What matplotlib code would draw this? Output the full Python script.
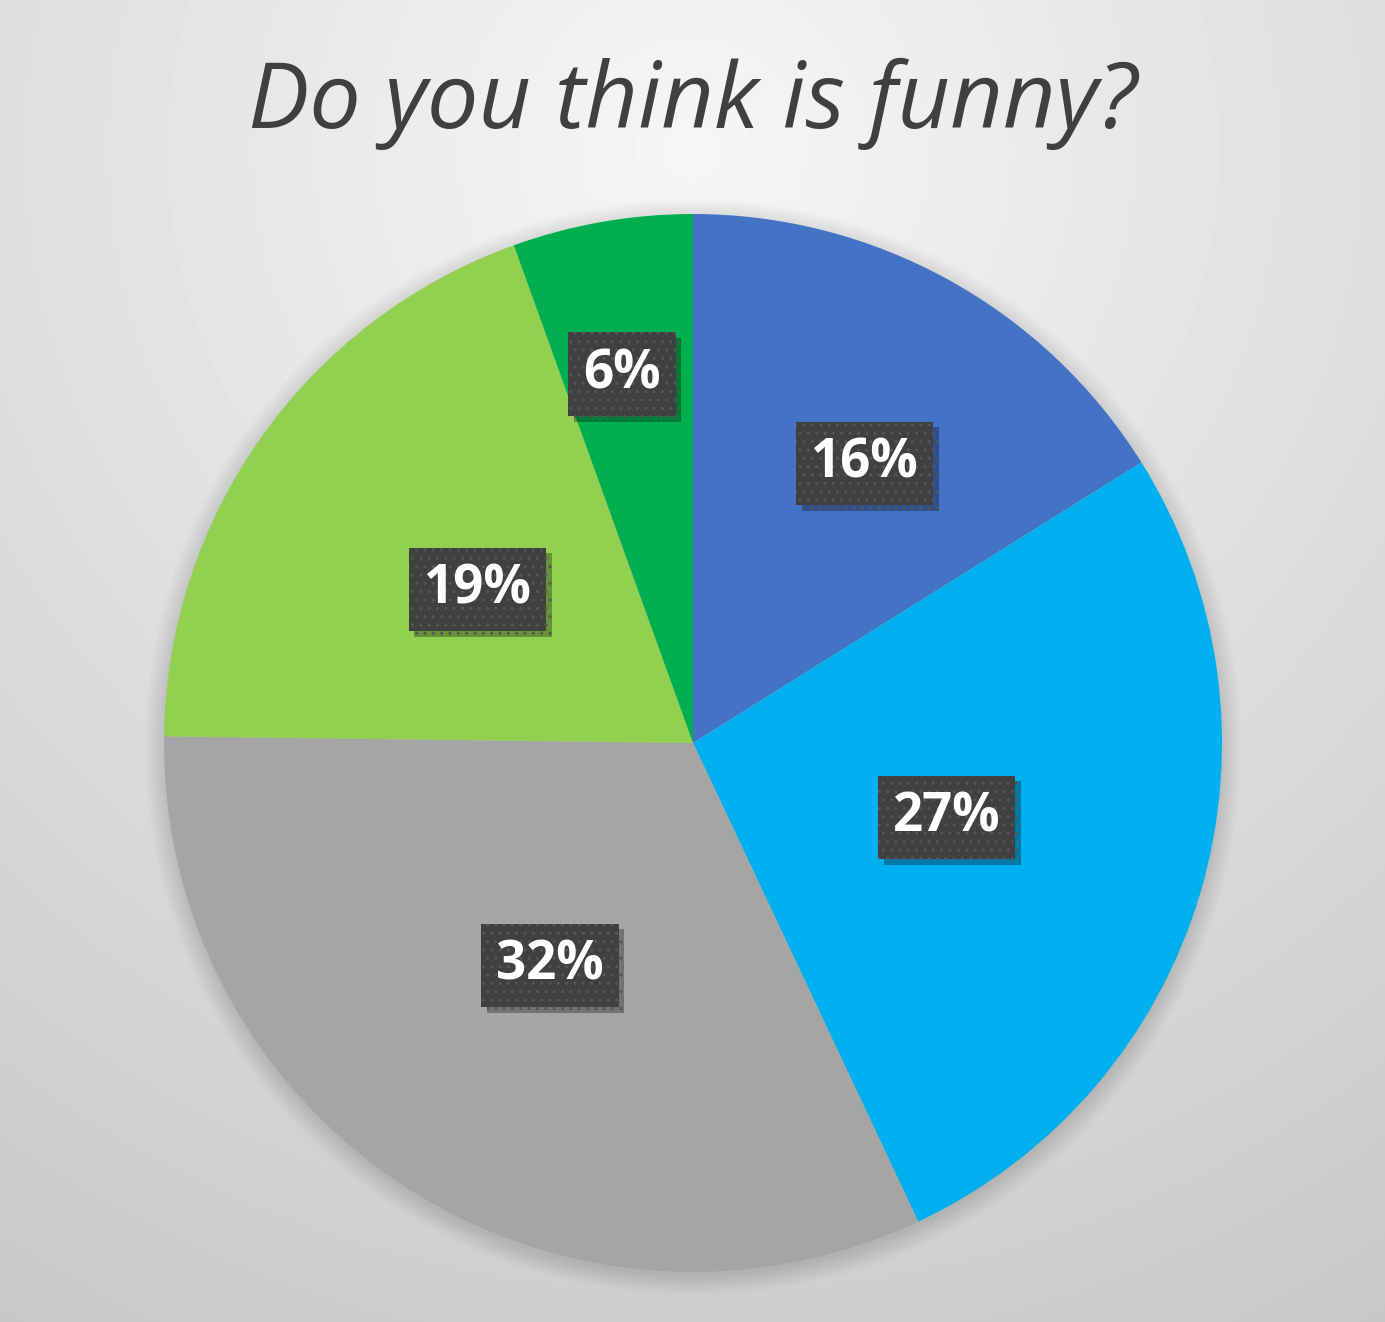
import matplotlib
matplotlib.use('Agg')
import matplotlib.pyplot as plt
import matplotlib.patheffects as pe
from matplotlib.patches import Circle
import numpy as np

# data (share of answers, %)
categories = ['A', 'B', 'C', 'D', 'E']
values = [16.1, 26.9, 32.2, 19.3, 5.5]
colors = ['#4472C4', '#00B0F0', '#A5A5A5', '#92D050', '#00B050']
title = 'Do you think is funny?'

# where each label box sits along its slice (fraction of radius, angle tweak in deg)
label_dist = [0.62, 0.50, 0.50, 0.50, 0.71]
label_turn = [-2.6, 0, 0, 0, 1.0]

W, H = 1385, 1322
fig = plt.figure(figsize=(W / 100, H / 100), dpi=100)

# radial grey background
bg = fig.add_axes([0, 0, 1, 1], zorder=0)
yy, xx = np.mgrid[0:H, 0:W]
d = np.hypot(xx - 693, yy - 150)
shade = np.clip(246 - 0.034 * d, 190, 250) / 255.0
bg.imshow(shade, cmap='gray', vmin=0, vmax=1, extent=[0, W, H, 0], aspect='auto')
bg.set_xlim(0, W)
bg.set_ylim(H, 0)
bg.axis('off')

fig.text(0.5, 1 - 104 / H, title, ha='center', va='center', fontsize=66,
         family='Open Sans', style='italic', color='#404040', zorder=5)

# pie axes: centre (693, 743), radius ~529 px
r = 529
ax = fig.add_axes([(693 - r) / W, (H - 743 - r) / H, 2 * r / W, 2 * r / H], zorder=2)
ax.set_facecolor('none')

# soft shadow under the pie
for k in range(10):
    ax.add_patch(Circle((0.0, -0.008), 1.0 + k * 0.004, color='black',
                        alpha=0.012, lw=0, zorder=0, clip_on=False))

wedges, _ = ax.pie(values, colors=colors, startangle=90, counterclock=False,
                   radius=1.0, wedgeprops=dict(linewidth=0))
for w in wedges:
    w.set_zorder(1)

for w, v, dist, turn in zip(wedges, values, label_dist, label_turn):
    ang = np.deg2rad((w.theta1 + w.theta2) / 2 + turn)
    t = ax.text(dist * np.cos(ang), dist * np.sin(ang), '%d%%' % int(v + 0.5),
                ha='center', va='center', fontsize=38, fontweight='bold',
                family='Open Sans', color='white', zorder=4,
                bbox=dict(boxstyle='square,pad=0.28', facecolor='#404040',
                          edgecolor='#555555', linewidth=0, hatch='..'))
    t.get_bbox_patch().set_path_effects([
        pe.SimplePatchShadow(offset=(4, -4), shadow_rgbFace='black', alpha=0.3),
        pe.Normal()])

ax.set_xlim(-1, 1)
ax.set_ylim(-1, 1)
ax.set_aspect('auto')
ax.axis('off')

fig.savefig('out.png', dpi=100)
